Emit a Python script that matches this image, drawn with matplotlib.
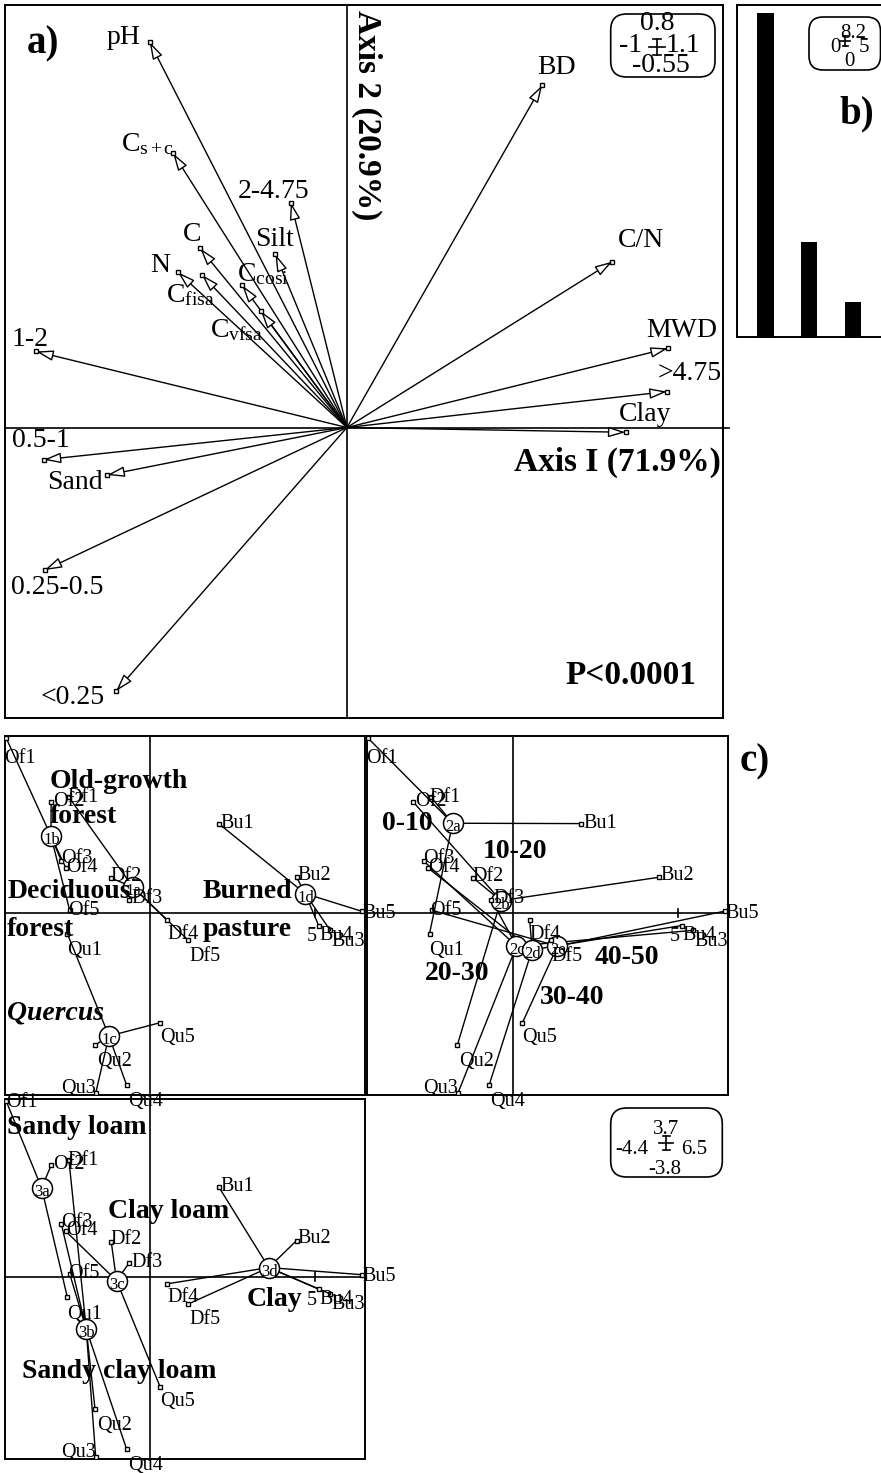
import numpy as np
import matplotlib
matplotlib.use('Agg')
import matplotlib.pyplot as plt
from matplotlib.patches import FancyArrowPatch, FancyBboxPatch
from matplotlib.lines import Line2D
from matplotlib.transforms import IdentityTransform

plt.rcParams['font.family'] = ['Liberation Serif', 'DejaVu Serif']
plt.rcParams['mathtext.fontset'] = 'custom'
plt.rcParams['mathtext.rm'] = 'Liberation Serif'
plt.rcParams['mathtext.it'] = 'Liberation Serif:italic'
plt.rcParams['mathtext.bf'] = 'Liberation Serif:bold'

W, H, DPI = 881, 1473, 100

# ---------------- data ----------------
# a) correlation circle of variables (Axis I, Axis 2)
var_names = ['pH', r'C$_{\mathrm{s+c}}$', '2-4.75', 'Silt', 'C', 'N',
             r'C$_{\mathrm{fisa}}$', r'C$_{\mathrm{cosi}}$', r'C$_{\mathrm{vfsa}}$',
             '1-2', '0.5-1', 'Sand', '0.25-0.5', '<0.25',
             'BD', 'C/N', 'MWD', '>4.75', 'Clay']
var_ax1 = [-0.577, -0.508, -0.164, -0.209, -0.429, -0.494, -0.424, -0.306, -0.251,
           -0.909, -0.887, -0.701, -0.884, -0.675, 0.571, 0.776, 0.939, 0.936, 0.815]
var_ax2 = [0.730, 0.519, 0.426, 0.328, 0.339, 0.294, 0.289, 0.269, 0.220,
           0.144, -0.061, -0.090, -0.270, -0.499, 0.648, 0.314, 0.150, 0.068, -0.009]
axis1_label = 'Axis I (71.9%)'
axis2_label = 'Axis 2 (20.9%)'
p_label = 'P<0.0001'
limits_a = (-1, 1.1, -0.55, 0.8)

# b) eigenvalues
eig_values = [8.01, 2.35, 0.87]
limits_b = (0, 5, 0, 8.2)

# c) sample scores
sample_names = ['Of1', 'Of2', 'Of3', 'Of4', 'Of5',
                'Df1', 'Df2', 'Df3', 'Df4', 'Df5',
                'Qu1', 'Qu2', 'Qu3', 'Qu4', 'Qu5',
                'Bu1', 'Bu2', 'Bu3', 'Bu4', 'Bu5']
sample_ax1 = [-4.36, -3.00, -2.69, -2.55, -2.44,
              -2.46, -1.18, -0.64, 0.52, 1.16,
              -2.51, -1.67, -1.65, -0.71, 0.30,
              2.08, 4.44, 5.46, 5.11, 6.41]
sample_ax2 = [3.65, 2.32, 1.09, 0.94, 0.06,
              2.42, 0.73, 0.28, -0.15, -0.57,
              -0.43, -2.76, -3.76, -3.60, -2.29,
              1.87, 0.75, -0.36, -0.26, 0.04]
site_class = ['1b'] * 5 + ['1a'] * 5 + ['1c'] * 5 + ['1d'] * 5
depth_class = ['2a', '2b', '2c', '2d', '2e'] * 4
texture_class = ['3a', '3a', '3b', '3c', '3b',
                 '3b', '3c', '3c', '3d', '3d',
                 '3a', '3b', '3b', '3b', '3c',
                 '3d', '3d', '3d', '3d', '3d']
site_names = ['Old-growth', 'forest', 'Deciduous', 'forest', 'Quercus', 'Burned', 'pasture']
depth_names = ['0-10', '10-20', '20-30', '30-40', '40-50']
texture_names = ['Sandy loam', 'Clay loam', 'Clay', 'Sandy clay loam']
limits_c = (-4.4, 6.5, -3.8, 3.7)

# ---------------- styling / placement (pixels) ----------------
var_label_off = [(-26, -4), (-26, -9), (-17, -11), (-1, -15), (-8, -14), (-17.5, -7),
                 (-11.5, 20), (21, -11), (-25, 19), (-6, -12), (-3, -19), (-32, 7),
                 (13, 17), (-43, 6), (14, -18), (29, -21), (14, -18), (23, -18), (20, -18)]
sample_label_off = [(-2, 20, 'left'), (2, -1, 'left'), (0, -2, 'left'), (0, -1, 'left'),
                    (-2, 0, 'left'), (-2, 0, 'left'), (-1, -2, 'left'), (2, -1, 'left'),
                    (0, 14, 'left'), (1, 16, 'left'), (0, 17, 'left'), (2, 16, 'left'),
                    (0, -5, 'right'), (1, 16, 'left'), (0, 15, 'left'), (2, 0, 'left'),
                    (1, -2, 'left'), (1, 11, 'left'), (1, 10, 'left'), (1, 2, 'left')]
site_text_pos = [(50, 782, 'left'), (50, 817, 'left'), (8, 891, 'left'), (7, 930, 'left'),
                 (7, 1013, 'left'), (203, 891, 'left'), (203, 929, 'left')]
depth_text_pos = [(407, 823), (515, 852), (457, 973), (572, 997), (627, 958)]
texture_text_pos = [(7, 1127, 'left'), (108, 1212, 'left'), (247, 1299, 'left'), (22, 1371, 'left')]

fig = plt.figure(figsize=(W / DPI, H / DPI), dpi=DPI)
PT = 72.0 / DPI


def axes_px(x0, y0, x1, y1):
    ax = fig.add_axes([x0 / W, 1 - y1 / H, (x1 - x0) / W, (y1 - y0) / H])
    ax.set_xticks([])
    ax.set_yticks([])
    ax.set_facecolor('none')
    for sp in ax.spines.values():
        sp.set_linewidth(1.4)
    return ax


def ftext(x, y, s, **kw):
    fig.text(x / W, 1 - y / H, s, **kw)


def fline(xs, ys, **kw):
    fig.add_artist(Line2D(xs, [H - y for y in ys], transform=IdentityTransform(), **kw))


def fmt(v):
    return ('%g' % v)


def scale_box(x0, y0, x1, y1, cx, cy, lims, pos, fs, r=15, cs=8):
    p = FancyBboxPatch((x0, H - y1), x1 - x0, y1 - y0,
                       boxstyle='round,pad=0,rounding_size=%g' % r,
                       transform=IdentityTransform(), fc='white', ec='black', lw=1.2)
    fig.add_artist(p)
    xmin, xmax, ymin, ymax = lims
    for v, (tx, ty) in zip([ymax, xmin, xmax, ymin], pos):
        ftext(tx, ty, fmt(v), ha='center', va='center', fontsize=fs)
    fline([cx - cs, cx + cs], [cy, cy], color='black', lw=1.2)
    fline([cx, cx], [cy - cs, cy + cs], color='black', lw=1.2)
    fline([cx - cs * 0.5, cx + cs * 0.5], [cy - cs, cy - cs], color='black', lw=1.2)
    fline([cx - cs * 0.5, cx + cs * 0.5], [cy + cs, cy + cs], color='black', lw=1.2)


# ---------------- panel a ----------------
axA = axes_px(5, 5, 723, 718)
axA.set_xlim(limits_a[0], limits_a[1])
axA.set_ylim(limits_a[2], limits_a[3])
axA.plot([limits_a[0], limits_a[1] + 0.018], [0, 0], color='black', lw=1.2, clip_on=False)
axA.axvline(0, color='black', lw=1.2)
for name, x, y, (dx, dy) in zip(var_names, var_ax1, var_ax2, var_label_off):
    arr = FancyArrowPatch((0, 0), (x, y), arrowstyle='-|>,head_length=10.5,head_width=3.2',
                          mutation_scale=1, fc='white', ec='black', lw=1.0,
                          shrinkA=0, shrinkB=0, zorder=3)
    axA.add_patch(arr)
    axA.plot(x, y, 's', ms=3, mfc='white', mec='black', mew=1.0, zorder=4)
    axA.annotate(name, (x, y), xytext=(dx * PT, -dy * PT), textcoords='offset points',
                 ha='center', va='center', fontsize=20, zorder=5)
ftext(43, 44, 'a)', fontsize=28, fontweight='bold', ha='center', va='center')
ftext(366.5, 115, axis2_label, rotation=-90, fontsize=24, fontweight='bold', ha='center', va='center')
ftext(617.5, 462, axis1_label, fontsize=24, fontweight='bold', ha='center', va='center')
ftext(631, 675, p_label, fontsize=24, fontweight='bold', ha='center', va='center')
scale_box(610.7, 14, 715, 77, 656.7, 46.7, limits_a,
          [(657.5, 24), (631, 45), (683, 45), (661, 65)], 20, r=16, cs=8)

# ---------------- panel b ----------------
axB = axes_px(736.7, 5, 954.7, 337)
axB.set_xlim(limits_b[0], limits_b[1])
axB.set_ylim(limits_b[2], limits_b[3])
axB.bar(np.arange(len(eig_values)) + 0.66, eig_values, width=0.37, color='black')
ftext(856.5, 114, 'b)', fontsize=28, fontweight='bold', ha='center', va='center')
scale_box(809, 17, 880.5, 70, 845, 41, limits_b,
          [(853, 34), (835, 47), (864, 48), (849, 61)], 15, r=14, cs=5)


# ---------------- panel c ----------------
def panel_c(x0, y0, x1, y1, classes, of1_override=None):
    ax = axes_px(x0, y0, x1, y1)
    ax.set_xlim(limits_c[0], limits_c[1])
    ax.set_ylim(limits_c[2], limits_c[3])
    ax.axhline(0, color='black', lw=1.2, zorder=1)
    ax.axvline(0, color='black', lw=1.2, zorder=1)
    ax.plot([5, 5], [-0.09, 0.09], color='black', lw=1.2, zorder=1)
    sx = np.array(sample_ax1)
    sy = np.array(sample_ax2)
    for c in sorted(set(classes)):
        idx = [i for i, k in enumerate(classes) if k == c]
        cx, cy = sx[idx].mean(), sy[idx].mean()
        for i in idx:
            ax.plot([cx, sx[i]], [cy, sy[i]], color='black', lw=1.0, zorder=2)
        ax.plot(cx, cy, 'o', ms=14.4, mfc='white', mec='black', mew=1.1, zorder=3)
        ax.annotate(c, (cx, cy), xytext=(0.5, -3), textcoords='offset points',
                    ha='center', va='center', fontsize=12, zorder=4)
    ax.plot(sx, sy, 's', ls='none', ms=3, mfc='white', mec='black', mew=1.0, zorder=5)
    for i, (name, x, y) in enumerate(zip(sample_names, sx, sy)):
        dx, dy, ha = sample_label_off[i]
        if i == 0 and of1_override is not None:
            dx, dy, ha = of1_override
        ax.annotate(name, (x, y), xytext=(dx * PT, -dy * PT), textcoords='offset points',
                    ha=ha, va='center', fontsize=14.5, zorder=6, annotation_clip=False)
    j = sample_names.index('Bu4')
    ax.annotate('5', (sx[j], sy[j]), xytext=(-1.5 * PT, -11 * PT), textcoords='offset points',
                ha='right', va='center', fontsize=14.5, zorder=6)
    return ax


axC1 = panel_c(5, 736, 364.5, 1095, site_class)
axC2 = panel_c(367, 736, 727.5, 1095, depth_class)
axC3 = panel_c(5, 1099, 364.5, 1459, texture_class, of1_override=(0, 1, 'left'))

for k, (s, (x, y, ha)) in enumerate(zip(site_names, site_text_pos)):
    style = 'italic' if s == 'Quercus' else 'normal'
    ftext(x, y, s, fontsize=20, fontweight='bold', fontstyle=style, ha=ha, va='center', zorder=10)
for s, (x, y) in zip(depth_names, depth_text_pos):
    ftext(x, y, s, fontsize=20, fontweight='bold', ha='center', va='center', zorder=10)
for s, (x, y, ha) in zip(texture_names, texture_text_pos):
    ftext(x, y, s, fontsize=20, fontweight='bold', ha=ha, va='center', zorder=10)
ftext(755, 762, 'c)', fontsize=28, fontweight='bold', ha='center', va='center')
scale_box(610.7, 1108, 722.3, 1177, 666, 1143.3, limits_c,
          [(666, 1130), (632, 1150), (694, 1150), (664.5, 1170)], 15, r=16, cs=7)

fig.savefig('out.png', dpi=DPI)
